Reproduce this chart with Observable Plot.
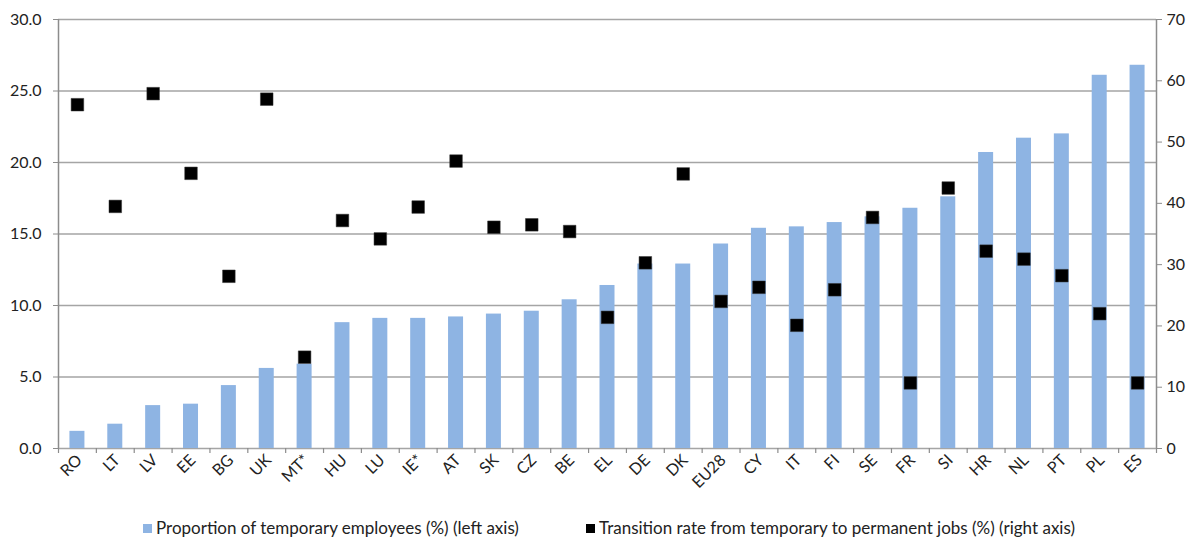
<!DOCTYPE html>
<html><head><meta charset="utf-8">
<script src="https://cdn.jsdelivr.net/npm/d3@7"></script>
<script src="https://cdn.jsdelivr.net/npm/@observablehq/plot@0.6"></script>
<style>
body{margin:0;background:#fff;font-family:Lato,sans-serif;}
#wrap{position:relative;width:1194px;height:538px;overflow:hidden}
.leg{position:absolute;top:519px;height:18px;font-size:17px;color:#222;display:flex;align-items:center;white-space:nowrap;line-height:18px}
.sw{display:inline-block;width:9px;height:9px;margin-right:4px}
</style></head><body><div id="wrap"></div>
<script>
const countries = ["RO","LT","LV","EE","BG","UK","MT*","HU","LU","IE*","AT","SK","CZ","BE","EL","DE","DK","EU28","CY","IT","FI","SE","FR","SI","HR","NL","PT","PL","ES"];
const temporaryShare = [1.2,1.7,3.0,3.1,4.4,5.6,5.9,8.8,9.1,9.1,9.2,9.4,9.6,10.4,11.4,12.9,12.9,14.3,15.4,15.5,15.8,16.2,16.8,17.6,20.7,21.7,22.0,26.1,26.8];
const transitionRate = [56.1,39.5,57.9,44.9,28.1,57.0,14.9,37.2,34.2,39.4,46.9,36.1,36.5,35.4,21.4,30.3,44.8,24.0,26.3,20.1,25.9,37.7,10.7,42.5,32.2,30.9,28.2,22.0,10.7];
const leftTicks = [0,5,10,15,20,25,30];
const rightTicks = [0,10,20,30,40,50,60,70];
const legendLabels = ["Proportion of temporary employees (%) (left axis)","Transition rate from temporary to permanent jobs (%) (right axis)"];
const legendColors = ["#8EB4E3","#000000"];

const W = 1194, H = 500, mL = 58, mR = 38, mT = 19, mB = 52;
const bw = (W - mL - mR) / countries.length;
const k = 30 / 70;
const data = countries.map((c, i) => ({c, p: temporaryShare[i], t: transitionRate[i]}));
const axisGray = "#8c8c8c";

const chart = Plot.plot({
  width: W, height: H,
  marginLeft: mL, marginRight: mR, marginTop: mT, marginBottom: mB,
  style: {fontFamily: "Lato, sans-serif", fontSize: "16px", background: "white", overflow: "visible", color: "#222"},
  x: {domain: countries, padding: 0, round: false},
  y: {domain: [0, 30]},
  marks: [
    Plot.ruleY(leftTicks, {stroke: "#a5a5a5", strokeWidth: 1.5}),
    Plot.barY(data, {x: "c", y: "p", fill: "#8EB4E3", insetLeft: (bw - 15) / 2, insetRight: (bw - 15) / 2}),
    Plot.dot(data, {x: "c", y: d => d.t * k, symbol: "square", r: 7.1, fill: "#000", stroke: "#333", strokeWidth: 0.5}),
    Plot.ruleX([countries[0]], {dx: -bw / 2, y1: 0, y2: 30, stroke: axisGray, strokeWidth: 1.5}),
    Plot.ruleX([countries[countries.length - 1]], {dx: bw / 2, y1: 0, y2: 30, stroke: axisGray, strokeWidth: 1.5}),
    Plot.ruleX(countries, {dx: -bw / 2, y1: 0, y2: -0.35, stroke: axisGray, strokeWidth: 1.2}),
    Plot.ruleX([countries[countries.length - 1]], {dx: bw / 2, y1: 0, y2: -0.35, stroke: axisGray, strokeWidth: 1.2}),
    Plot.axisY(leftTicks, {anchor: "left", tickSize: 5, tickPadding: 12, tickFormat: d => d.toFixed(1), stroke: axisGray, color: "#222", label: null, fontSize: 16}),
    Plot.axisY(rightTicks.map(v => v * k), {anchor: "right", tickSize: 5, tickPadding: 5, tickFormat: d => String(Math.round(d / k)), stroke: axisGray, color: "#222", label: null, fontSize: 16}),
    Plot.axisX({tickRotate: -45, tickSize: 0, tickPadding: 9, dx: 2, color: "#222", label: null, fontSize: 16})
  ]
});

const wrap = document.getElementById("wrap");
wrap.appendChild(chart);
const legLeft = [143, 586];
legendLabels.forEach((lab, i) => {
  const d = document.createElement("div");
  d.className = "leg";
  d.style.left = legLeft[i] + "px";
  const s = document.createElement("span");
  s.className = "sw";
  s.style.background = legendColors[i];
  d.appendChild(s);
  d.appendChild(document.createTextNode(lab));
  wrap.appendChild(d);
});
</script>
</body></html>
